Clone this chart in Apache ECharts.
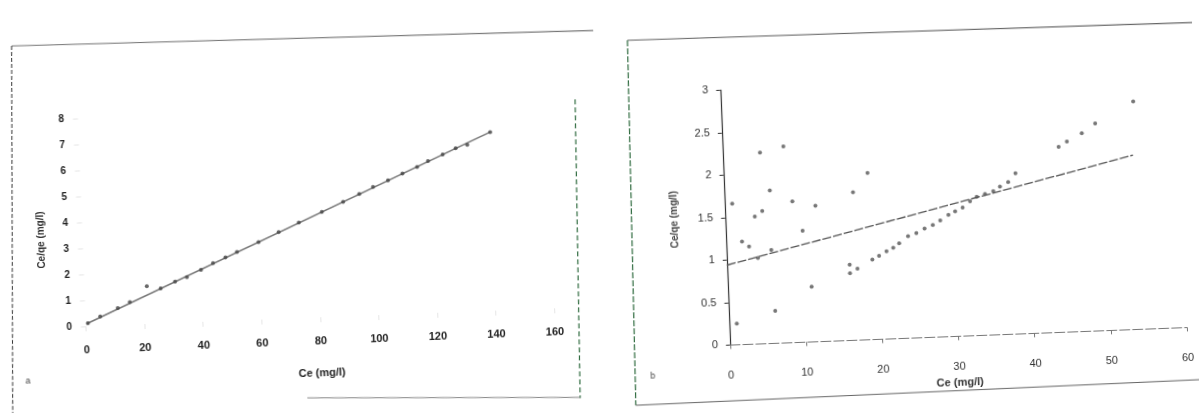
<!DOCTYPE html>
<html><head><meta charset="utf-8">
<script src="https://cdn.jsdelivr.net/npm/echarts@6/dist/echarts.min.js"></script>
<style>
html,body{margin:0;padding:0;background:#fff;overflow:hidden;width:1199px;height:413px}
#pa{position:absolute;left:0;top:0;width:600px;height:413px;transform:rotate(-2.2deg)}
#pb{position:absolute;left:600px;top:0;width:599px;height:413px;transform:rotate(-2.2deg)}
</style></head><body>
<div id="pa"></div><div id="pb"></div>
<script>
// Panel a
const aCe   = [0.7, 5, 11.1, 15.3, 21.3, 26, 31, 35.1, 40, 44.2, 48.5, 52.5, 60, 67, 74, 82, 89.4, 95, 99.8, 105, 110, 115.1, 118.9, 124, 128.5, 132.5, 140.5];
const aCeQe = [0.12, 0.36, 0.65, 0.87, 1.45, 1.35, 1.59, 1.74, 2.0, 2.24, 2.44, 2.63, 2.98, 3.34, 3.67, 4.05, 4.40, 4.68, 4.93, 5.16, 5.40, 5.63, 5.85, 6.08, 6.30, 6.41, 6.87];
const aFitX = [0.3, 140.5];
const aFitY = [0.10, 6.87];
// Panel b
const bCe   = [1.0, 1.0, 2.1, 3.0, 4.1, 3.9, 4.9, 4.9, 8.0, 6.0, 5.9, 6.1, 8.9, 10.1, 11.0, 11.9, 16.9, 18.9, 16.1, 16.1, 17.1,
               19.1, 20.0, 21.0, 21.9, 22.7, 23.9, 25.0, 26.1, 27.2, 28.2, 29.3, 30.2, 31.2, 32.2, 33.1, 34.2, 35.3, 36.2, 37.3, 38.3,
               44.1, 45.2, 47.2, 49.0, 54.1];
const bCeQe = [0.25, 1.66, 1.21, 1.15, 1.01, 1.50, 1.56, 2.25, 2.31, 1.80, 1.10, 0.38, 1.66, 1.31, 0.65, 1.60, 1.74, 1.96, 0.89, 0.79, 0.84,
               0.94, 0.98, 1.03, 1.07, 1.12, 1.20, 1.23, 1.28, 1.32, 1.37, 1.43, 1.47, 1.51, 1.58, 1.63, 1.66, 1.69, 1.74, 1.79, 1.89,
               2.18, 2.24, 2.33, 2.44, 2.68];
const bFitX = [0, 53.8];
const bFitY = [0.94, 2.05];

const aPts = aCe.map((x, i) => [x, aCeQe[i]]);
const aFit = aFitX.map((x, i) => [x, aFitY[i]]);
const bPts = bCe.map((x, i) => [x, bCeQe[i]]);
const bFit = bFitX.map((x, i) => [x, bFitY[i]]);

const FONT = 'Liberation Sans';

function ln(x1, y1, x2, y2, stroke, w, dash) {
  return { type: 'line', silent: true, shape: { x1, y1, x2, y2 },
           style: { stroke, lineWidth: w, lineDash: dash || null } };
}

const ca = echarts.init(document.getElementById('pa'), null, { renderer: 'canvas' });
ca.setOption({
  animation: false,
  backgroundColor: 'transparent',
  grid: { left: 81.5, right: 50, top: 110, bottom: 95 },
  xAxis: {
    type: 'value', min: 0, max: 160, interval: 20,
    axisLine: { show: false },
    axisTick: { show: true, length: 5, lineStyle: { color: '#e6e6e6' } },
    splitLine: { show: false },
    axisLabel: { margin: 18, fontSize: 11, fontWeight: 'bold', color: '#222', fontFamily: FONT },
    name: 'Ce (mg/l)', nameLocation: 'middle', nameGap: 50,
    nameTextStyle: { fontSize: 11, fontWeight: 'bold', color: '#222', fontFamily: FONT }
  },
  yAxis: {
    type: 'value', min: 0, max: 8, interval: 1,
    axisLine: { show: false },
    axisTick: { show: true, length: 5, lineStyle: { color: '#e6e6e6' } },
    splitLine: { show: false },
    axisLabel: { margin: 14, fontSize: 10, fontWeight: 'bold', color: '#222', fontFamily: FONT },
    name: 'Ce/qe (mg/l)', nameLocation: 'middle', nameGap: 36,
    nameTextStyle: { fontSize: 10, fontWeight: 'bold', color: '#333', fontFamily: FONT, padding: [0, 32, 0, 0] }
  },
  series: [
    { type: 'line', data: aFit, symbol: 'none', lineStyle: { color: '#777', width: 1.6 }, z: 2 },
    { type: 'scatter', data: aPts, symbolSize: 4, itemStyle: { color: '#444' }, z: 3 }
  ],
  graphic: [
    ln(18, 35, 605, 42, '#777', 1.2),
    ln(18, 35, 5, 402, '#333', 1, [4, 2]),
    ln(579, 110, 572.6, 408.8, '#2f6b3f', 1.2, [5, 3]),
    ln(300, 398, 572.6, 408, '#888', 1.2),
    { type: 'text', silent: true, x: 19, y: 366, style: { text: 'a', fontSize: 9, fill: '#444', fontFamily: FONT } }
  ]
});

const cb = echarts.init(document.getElementById('pb'), null, { renderer: 'canvas' });
cb.setOption({
  animation: false,
  backgroundColor: 'transparent',
  grid: { left: 124.8, right: 17, top: 83.4, bottom: 74.6 },
  xAxis: {
    type: 'value', min: 0, max: 60, interval: 10,
    axisLine: { show: true, lineStyle: { color: '#777', width: 1, type: [10, 3] } },
    axisTick: { show: true, length: 4, lineStyle: { color: '#777' } },
    splitLine: { show: false },
    axisLabel: { margin: 25, fontSize: 11, color: '#333', fontFamily: FONT },
    name: 'Ce (mg/l)', nameLocation: 'middle', nameGap: 30,
    nameTextStyle: { fontSize: 11, fontWeight: 'bold', color: '#333', fontFamily: FONT }
  },
  yAxis: {
    type: 'value', min: 0, max: 3, interval: 0.5,
    axisLine: { show: true, lineStyle: { color: '#333', width: 1.2 } },
    axisTick: { show: true, length: 4, lineStyle: { color: '#333' } },
    splitLine: { show: false },
    axisLabel: { margin: 12, fontSize: 11, color: '#333', fontFamily: FONT },
    name: 'Ce/qe (mg/l)', nameLocation: 'middle', nameGap: 46,
    nameTextStyle: { fontSize: 10, fontWeight: 'bold', color: '#444', fontFamily: FONT }
  },
  series: [
    { type: 'line', data: bFit, symbol: 'none', lineStyle: { color: '#555', width: 1.3, type: [9, 2] }, z: 2 },
    { type: 'scatter', data: bPts, symbolSize: 4, itemStyle: { color: '#555' }, z: 3 }
  ],
  graphic: [
    ln(34, 30, 606, 34, '#666', 1.2),
    ln(34, 30, 28.4, 395, '#2f6b3f', 1.2, [6, 2]),
    ln(28.4, 395, 600, 391, '#666', 1.2),
    { type: 'text', silent: true, x: 44, y: 362, style: { text: 'b', fontSize: 9, fill: '#444', fontFamily: FONT } }
  ]
});
</script>
</body></html>
